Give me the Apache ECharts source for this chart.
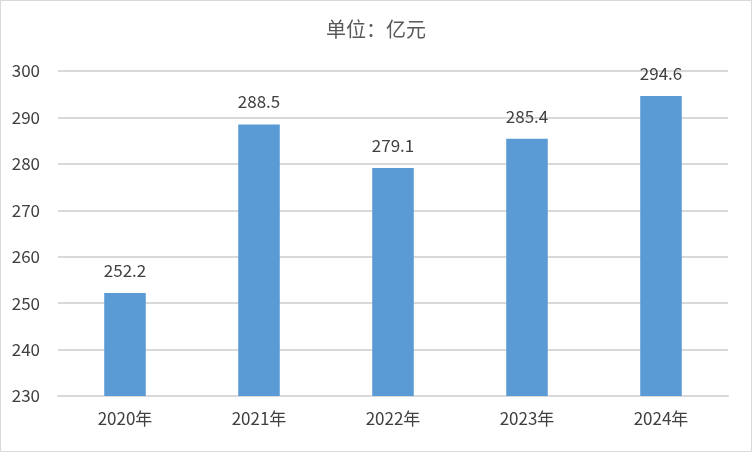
<!DOCTYPE html>
<html><head><meta charset="utf-8">
<script src="https://cdn.jsdelivr.net/npm/echarts@6/dist/echarts.min.js"></script>
<style>html,body{margin:0;padding:0;background:#fff}#c{width:750px;height:450px;border:1px solid #d9d9d9}</style>
</head><body><div id="c"></div>
<script>
const categories = ['2020年','2021年','2022年','2023年','2024年'];
const values = [252.2, 288.5, 279.1, 285.4, 294.6];
const yTicks = {min:230, max:300, interval:10};
const chart = echarts.init(document.getElementById('c'));
const font = '"Noto Sans CJK SC","Noto Sans",sans-serif';
chart.setOption({
  animation:false,
  title:{text:'单位：亿元',left:'center',top:13,textStyle:{fontFamily:font,fontSize:20,fontWeight:'normal',color:'#595959'}},
  grid:{left:57,right:23,top:70,bottom:55},
  xAxis:{type:'category',data:categories,axisTick:{show:false},
    axisLine:{lineStyle:{color:'#d9d9d9',width:2}},
    axisLabel:{fontFamily:font,fontSize:17,color:'#404040',margin:14}},
  yAxis:{type:'value',min:yTicks.min,max:yTicks.max,interval:yTicks.interval,
    axisLine:{show:false},axisTick:{show:false},
    splitLine:{lineStyle:{color:'#d9d9d9',width:2}},
    axisLabel:{fontFamily:font,fontSize:17,color:'#404040',margin:18}},
  series:[{type:'bar',data:values,barWidth:'31%',itemStyle:{color:'#5B9BD5'},
    label:{show:true,position:'top',distance:14,fontFamily:font,fontSize:17,color:'#404040'}}]
});
</script></body></html>
